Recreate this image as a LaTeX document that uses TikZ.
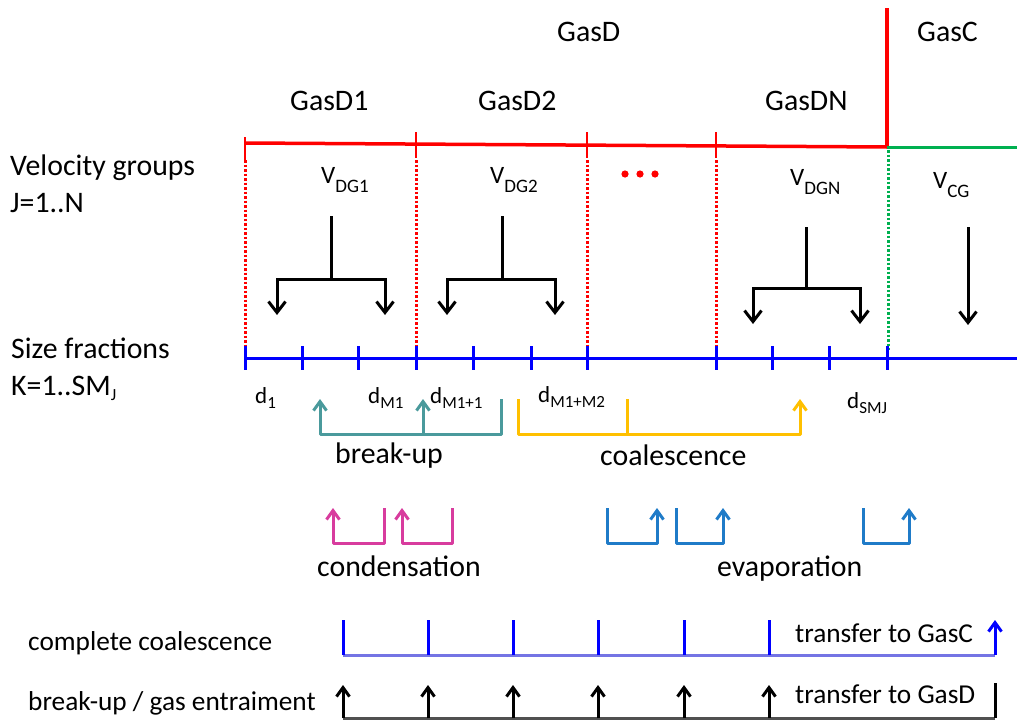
\documentclass[tikz,border=0pt]{standalone}
\usepackage{fontspec}
\setmainfont{Carlito}
\usetikzlibrary{arrows.meta}
\definecolor{cred}{HTML}{FF0000}
\definecolor{cgreen}{HTML}{00B050}
\definecolor{cblue}{HTML}{0000FF}
\definecolor{cteal}{HTML}{4A9A9C}
\definecolor{cyel}{HTML}{FFC000}
\definecolor{cmag}{HTML}{D83C9E}
\definecolor{cevap}{HTML}{1F7BC8}
\definecolor{clblue}{HTML}{7474E4}
\definecolor{cgray}{HTML}{505050}
\newcommand\lowsub[2]{\raisebox{-#1}{\fontsize{19}{19}\selectfont #2}}
\newcommand\dsub[1]{\raisebox{-5pt}{\fontsize{17}{17}\selectfont #1}}
\begin{document}
\begin{tikzpicture}[x=1pt,y=-1pt,
  txt/.style={anchor=base west, inner sep=0pt, font=\fontsize{29.8}{31}\selectfont},
  vtxt/.style={anchor=base west, inner sep=0pt, font=\fontsize{25}{27}\selectfont},
  dtxt/.style={anchor=base west, inner sep=0pt, font=\fontsize{23}{25}\selectfont},
  btxt/.style={anchor=base west, inner sep=0pt, font=\fontsize{27.3}{29}\selectfont},
  redline/.style={draw=cred, line width=3.5pt},
  greenline/.style={draw=cgreen, line width=3pt},
  redtick/.style={draw=cred, line width=2.5pt},
  reddot/.style={draw=cred, line width=3pt, dash pattern=on 2.5pt off 2pt},
  greendot/.style={draw=cgreen, line width=3pt, dash pattern=on 2.5pt off 2pt},
  blueaxis/.style={draw=cblue, line width=3pt},
  blk/.style={draw=black, line width=3pt},
  barb/.style={-{Straight Barb[length=11pt,width=17pt]}},
  sbarb/.style={-{Straight Barb[length=9pt,width=13pt]}},
  tealc/.style={draw=cteal, line width=3pt, line join=round},
  yelc/.style={draw=cyel, line width=3pt, line join=round},
  magc/.style={draw=cmag, line width=3pt, line join=round},
  evapc/.style={draw=cevap, line width=3pt, line join=round},
  lbluec/.style={draw=clblue, line width=3pt},
  graylc/.style={draw=cgray, line width=3pt},
]
\useasboundingbox (0,0) rectangle (1017,720);

% ---------- labels ----------
\node[txt] (gasd) at (557,41) {GasD};
\node[txt] (gasc) at (917,41) {GasC};
\node[txt] (gasd1) at (290,110) {GasD1};
\node[txt] (gasd2) at (478,110) {GasD2};
\node[txt] (gasdn) at (765,110) {GasDN};
\node[txt] (velg) at (10,175) {Velocity groups};
\node[txt] (jn) at (10,212) {J=1..N};
\node[txt] (sizef) at (11,358) {Size fractions};
\node[txt] (ksm) at (11,395) {K=1..SM\dsub{J}};

\node[vtxt] (vdg1) at (321,183) {V\lowsub{9pt}{DG1}};
\node[vtxt] (vdg2) at (490,183) {V\lowsub{9pt}{DG2}};
\node[vtxt] (vdgn) at (790,185) {V\lowsub{9pt}{DGN}};
\node[vtxt] (vcg) at (933,188) {V\lowsub{9pt}{CG}};
\foreach \x [count=\i] in {625,640,655} \fill[cred] (\x,174) circle (3.6pt) coordinate (dot\i);

\node[dtxt] (d1) at (255,403) {d\dsub{1}};
\node[dtxt] (dm1) at (368,403) {d\dsub{M1}};
\node[dtxt] (dm11) at (430,403) {d\dsub{M1+1}};
\node[dtxt] (dm1m2) at (538,402) {d\dsub{M1+M2}};
\node[dtxt] (dsmj) at (847,408) {d\dsub{SMJ}};

\node[txt] (brk) at (335,463) {break-up};
\node[txt] (coal) at (600,465) {coalescence};
\node[txt] (cond) at (317,576) {condensation};
\node[txt] (evap) at (717,576) {evaporation};

\node[btxt] (ccoal) at (28,650) {complete coalescence};
\node[btxt] (bge) at (28,710) {break-up / gas entraiment};
\node[btxt] (tgc) at (795,642) {transfer to GasC};
\node[btxt] (tgd) at (795,703) {transfer to GasD};

% ---------- top boundaries ----------
\coordinate (rl) at (245,143);
\coordinate (rr) at (887,147);
\draw[redline] (rl) -- (rr);
\draw[redline] (887,8) -- (rr);
\draw[greenline] (rr) -- (1017,147);
\draw[redtick] (245,137) -- (245,163);
\foreach \x in {416,587,716} \draw[redtick] (\x,132) -- (\x,158);
\foreach \x in {245,416,587,716} \draw[reddot] (\x,160) -- (\x,350);
\draw[greendot] (888,150) -- (888,350);

% ---------- size axis ----------
\draw[blueaxis] (245,358) -- (1017,358);
\foreach \x in {245,302,358,416,473,531,587,716,772,829,887}
  \draw[blueaxis] (\x,346) -- (\x,370);

% ---------- velocity group arrows ----------
\draw[blk] (331,216) -- (331,279) coordinate (s1);
\draw[blk,barb] (s1) -| (277,315);
\draw[blk,barb] (s1) -| (385,315);
\draw[blk] (502,216) -- (502,279) coordinate (s2);
\draw[blk,barb] (s2) -| (447,315);
\draw[blk,barb] (s2) -| (555,315);
\draw[blk] (806,227) -- (806,288) coordinate (sn);
\draw[blk,barb] (sn) -| (753,324);
\draw[blk,barb] (sn) -| (860,324);
\draw[blk,barb] (968,227) -- (968,325);

% ---------- break-up / coalescence ----------
\draw[tealc,sbarb] (501,399) |- (320,434) -- (320,399);
\draw[tealc,sbarb] (423,434) -- (423,399);
\draw[yelc,sbarb] (518,399) |- (800,434) -- (800,399);
\draw[yelc] (627,399) -- (627,434);

% ---------- condensation / evaporation ----------
\draw[magc,sbarb] (384,508) |- (333,543) -- (333,508);
\draw[magc,sbarb] (452,508) |- (402,543) -- (402,508);
\draw[evapc,sbarb] (607,508) |- (657,543) -- (657,508);
\draw[evapc,sbarb] (676,508) |- (723,543) -- (723,508);
\draw[evapc,sbarb] (863,508) |- (909,543) -- (909,508);

% ---------- bottom rows ----------
\draw[lbluec] (343,655) -- (995,655);
\foreach \x in {343,428,513,598,684,769} \draw[blueaxis] (\x,620) -- (\x,655);
\draw[blueaxis,sbarb] (995,655) -- (995,620);
\draw[graylc] (343,718) -- (995,718);
\foreach \x in {343,428,513,598,684,769} \draw[blk,sbarb] (\x,718) -- (\x,685);
\draw[blk] (995,683) -- (995,718);
\end{tikzpicture}
\end{document}
